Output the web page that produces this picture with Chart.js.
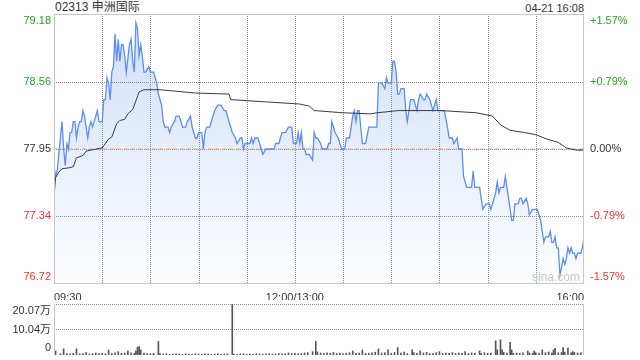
<!DOCTYPE html>
<html>
<head>
<meta charset="utf-8">
<script src="https://cdn.jsdelivr.net/npm/chart.js@4"></script>
<style>
  body { margin: 0; background: #fff; width: 640px; height: 360px; overflow: hidden; position: relative;
         font-family: "Liberation Sans", Arial, "Noto Sans CJK SC", sans-serif; }
  #priceBox { position: absolute; left: 0; top: 0; }
  #volBox { position: absolute; left: 0; top: 300px; }
  .lbl { position: absolute; color: #333; white-space: nowrap; }
  #title { left: 55px; top: 0; font-size: 12px; line-height: 15px; }
  #stamp { right: 56px; top: 1px; font-size: 11px; line-height: 14px; }
  #mark { left: 532px; top: 271px; font-size: 12px; line-height: 12px; color: #c8c8c8; }
</style>
</head>
<body>
<div class="lbl" id="title">02313 申洲国际</div>
<div class="lbl" id="stamp">04-21 16:08</div>
<canvas id="priceBox" width="640" height="300"></canvas>
<canvas id="volBox" width="640" height="60"></canvas>
<div class="lbl" id="mark">sina.com</div>
<script>
// minutes from 09:30 with the lunch break removed (330 trading minutes)
const prevClose = 77.95;
const priceTicks = [76.72, 77.34, 77.95, 78.56, 79.18];
const pctLabels = ['-1.57%', '-0.79%', '0.00%', '+0.79%', '+1.57%'];
const timeTicks = [0, 30, 60, 90, 120, 150, 180, 210, 240, 270, 300, 330];
const timeLabels = { 0: '09:30', 150: '12:00/13:00', 330: '16:00' };
const volTicks = [0, 10.04, 20.07];
const volLabels = ['0', '10.04万', '20.07万'];

const prices = [
  [0,77.80],[1,77.70],[2,77.75],[4,78.05],[5,78.20],[6,77.95],[7,77.80],[8,78.00],[9,77.95],[10,78.10],
  [11,78.10],[12,78.20],[13,78.20],[14,78.05],[15,78.15],[16,78.20],[17,78.20],[18,78.30],[19,78.25],[20,78.15],
  [21,78.05],[22,78.15],[23,78.20],[24,78.15],[26,78.25],[27,78.30],[28,78.20],[30,78.20],[31,78.40],[32,78.40],
  [33,78.60],[34,78.55],[35,78.40],[36,78.65],[37,78.70],[38,79.00],[39,78.75],[40,78.95],[41,78.75],[42,78.90],
  [43,78.90],[44,78.80],[45,78.65],[47,78.90],[48,78.95],[49,78.75],[50,78.65],[51,79.10],[52,79.05],[53,78.80],
  [54,78.90],[55,78.80],[56,78.65],[57,78.65],[59,78.70],[60,78.65],[62,78.65],[64,78.55],[65,78.45],[67,78.35],
  [68,78.20],[69,78.15],[71,78.15],[72,78.10],[73,78.15],[75,78.20],[76,78.25],[78,78.25],[80,78.15],[82,78.15],
  [83,78.20],[85,78.25],[86,78.15],[88,78.05],[89,78.05],[90,78.10],[92,78.10],[93,77.95],[94,78.10],[95,78.15],
  [97,78.15],[98,78.20],[100,78.30],[102,78.35],[104,78.35],[106,78.30],[107,78.30],[109,78.20],[110,78.15],[111,78.10],
  [113,78.05],[114,78.00],[116,78.05],[117,78.05],[118,77.95],[119,78.00],[122,78.00],[123,78.05],[124,78.00],[125,78.05],
  [127,78.05],[129,77.95],[130,77.90],[132,77.95],[134,77.95],[137,77.95],[138,78.00],[140,78.00],[141,78.05],[142,78.10],
  [144,78.10],[146,78.15],[148,78.15],[149,78.00],[151,78.00],[152,78.10],[153,78.00],[154,78.10],[155,77.95],[156,77.95],
  [157,77.90],[159,77.90],[161,77.85],[162,78.10],[163,78.05],[164,78.05],[166,78.00],[167,77.95],[170,77.95],[171,78.00],
  [172,78.00],[173,78.20],[174,78.15],[175,78.10],[177,78.05],[179,77.95],[181,77.95],[182,78.05],[184,78.05],[186,78.25],
  [187,78.30],[188,78.20],[189,78.30],[190,78.30],[191,78.15],[192,78.00],[194,78.00],[196,78.15],[198,78.15],[201,78.15],
  [202,78.55],[204,78.55],[206,78.50],[207,78.60],[208,78.55],[210,78.55],[211,78.75],[212,78.75],[213,78.65],[214,78.45],
  [215,78.45],[216,78.50],[218,78.50],[219,78.30],[220,78.20],[222,78.40],[224,78.40],[226,78.30],[227,78.40],[228,78.45],
  [230,78.40],[231,78.40],[232,78.45],[234,78.40],[235,78.35],[236,78.30],[237,78.35],[238,78.40],[239,78.30],[243,78.30],
  [245,78.15],[246,78.05],[248,78.05],[249,78.00],[251,78.05],[252,77.95],[254,77.95],[255,77.70],[257,77.60],[260,77.60],
  [261,77.75],[262,77.60],[264,77.60],[265,77.60],[266,77.50],[267,77.40],[269,77.45],[271,77.45],[272,77.40],[274,77.50],
  [275,77.55],[276,77.65],[277,77.55],[278,77.60],[280,77.60],[281,77.70],[282,77.60],[283,77.50],[284,77.40],[285,77.30],
  [286,77.30],[287,77.45],[289,77.45],[290,77.50],[291,77.50],[292,77.45],[294,77.50],[295,77.45],[296,77.35],[298,77.40],
  [301,77.40],[302,77.35],[303,77.30],[305,77.10],[306,77.15],[308,77.15],[309,77.20],[310,77.10],[311,77.10],[312,77.15],
  [313,77.05],[314,77.05],[315,76.80],[317,76.95],[318,76.90],[319,76.95],[320,77.05],[321,77.00],[322,77.05],[323,77.00],
  [324,77.00],[325,76.95],[326,77.00],[328,77.00],[329,77.05],[330,77.15]
];

const avgPrices = [
  [0,77.51],[1,77.69],[3,77.74],[5,77.77],[10,77.78],[12,77.79],[14,77.87],[18,77.89],[20,77.93],[23,77.94],
  [30,77.96],[34,78.04],[36,78.06],[39,78.18],[41,78.21],[44,78.22],[46,78.27],[49,78.31],[51,78.39],[53,78.47],
  [56,78.49],[62,78.49],[66,78.49],[88,78.46],[109,78.45],[110,78.40],[131,78.38],[153,78.36],[159,78.34],[162,78.30],
  [180,78.28],[197,78.27],[201,78.28],[208,78.29],[214,78.30],[241,78.30],[263,78.28],[273,78.25],[278,78.17],[284,78.12],
  [293,78.10],[300,78.08],[307,78.04],[314,78.01],[319,77.96],[325,77.94],[330,77.94]
];

// volume in 万 shares
const volumes = [
  [0,0.8],[1,1.6],[4,0.5],[6,2.4],[8,0.6],[10,0.4],[12,0.7],[14,2.4],[16,0.5],[18,0.6],
  [20,1.0],[22,0.4],[24,0.5],[26,0.8],[28,0.6],[30,0.7],[32,0.5],[34,2.0],[36,0.6],[38,0.9],
  [40,1.3],[42,0.7],[44,0.8],[46,1.6],[48,0.9],[50,0.7],[51,1.6],[52,3.1],[53,3.3],[54,2.0],
  [56,0.8],[58,0.6],[60,0.5],[62,0.7],[65,5.35],[66,0.6],[68,0.4],[70,0.5],[72,0.3],[74,0.4],
  [76,0.5],[78,0.4],[80,0.3],[82,0.5],[84,0.4],[86,0.3],[88,0.5],[90,0.4],[92,0.3],[94,0.5],
  [96,0.4],[98,0.3],[100,0.4],[102,0.5],[104,0.3],[106,0.4],[108,0.5],[111,20.07],[112,0.4],[114,0.3],
  [116,0.4],[118,0.5],[120,0.3],[122,0.4],[124,0.3],[126,0.5],[128,0.4],[130,0.3],[132,0.4],[134,0.5],
  [136,0.3],[138,0.4],[140,0.6],[142,0.4],[144,0.5],[146,0.8],[148,0.6],[150,0.7],[152,0.5],[154,0.6],
  [156,0.8],[158,0.9],[161,1.3],[163,5.35],[164,1.2],[166,0.8],[168,0.6],[170,0.9],[172,0.7],[174,1.0],
  [176,0.6],[178,0.8],[180,0.5],[182,0.7],[184,0.9],[186,1.6],[188,0.7],[190,0.8],[192,2.0],[194,0.6],
  [196,0.7],[198,0.9],[200,1.1],[202,2.4],[204,0.8],[206,0.9],[208,2.0],[210,0.7],[212,1.0],[214,2.9],
  [216,0.8],[218,1.1],[220,0.6],[223,2.0],[224,0.9],[226,0.7],[228,1.6],[230,0.8],[232,1.0],[234,0.6],
  [236,0.7],[238,0.9],[240,1.3],[242,0.6],[244,0.8],[246,0.7],[248,0.9],[250,0.6],[252,0.8],[254,0.7],
  [256,1.3],[258,0.6],[260,0.8],[262,0.7],[265,1.6],[266,0.6],[268,0.9],[270,0.7],[272,0.8],[275,5.6],
  [276,2.0],[278,6.0],[279,2.0],[280,1.0],[282,0.8],[284,5.0],[285,2.0],[286,0.7],[288,0.8],[290,0.6],
  [292,0.9],[295,1.6],[296,0.8],[298,0.7],[299,1.6],[300,0.9],[302,0.8],[304,2.0],[306,0.9],[308,1.2],
  [310,0.8],[311,2.0],[312,2.6],[314,0.9],[316,1.0],[317,2.9],[318,1.1],[320,2.7],[322,0.9],[323,1.3],
  [324,1.0],[326,0.8],[328,0.9],[330,14.7]
];

const green = '#22a822';
const red = '#ee3030';
const ink = '#333';
const gridGray = '#c8c8c8';
const dotGray = '#8a8a8a';

Chart.defaults.font.family = '"Liberation Sans", Arial, "Noto Sans CJK SC", sans-serif';
Chart.defaults.font.size = 11;
Chart.defaults.animation = false;

function tickColor(v) {
  if (v > prevClose + 1e-6) return green;
  if (v < prevClose - 1e-6) return red;
  return ink;
}

// shift the end labels inward: bottom label up, top label down
function edgeLabel(text, i, n) {
  if (i === 0) return [text, ''];
  if (i === n - 1) return ['', text];
  return text;
}

// keep the plot box where it is: no extra room for overflowing labels
function noPad(s) {
  s.paddingTop = 0; s.paddingBottom = 0; s.paddingLeft = 0; s.paddingRight = 0;
}

// dotted grid placed with the chart's own scales
function dotGrid(xs, ys) {
  return {
    id: 'dotGrid',
    beforeDatasetsDraw(chart) {
      const a = chart.chartArea, c = chart.ctx;
      c.save();
      c.strokeStyle = dotGray;
      c.lineWidth = 1;
      c.setLineDash([1, 1]);
      xs.forEach(v => {
        const px = Math.round(chart.scales.x.getPixelForValue(v)) + 0.5;
        c.beginPath(); c.moveTo(px, Math.round(a.top)); c.lineTo(px, Math.round(a.bottom)); c.stroke();
      });
      ys.forEach(v => {
        const py = Math.round(chart.scales.y.getPixelForValue(v)) + 0.5;
        c.beginPath(); c.moveTo(Math.round(a.left), py); c.lineTo(Math.round(a.right), py); c.stroke();
      });
      c.restore();
    }
  };
}

function frame(withTop, withBottom) {
  return {
    id: 'frame',
    afterDatasetsDraw(chart) {
      const a = chart.chartArea, c = chart.ctx;
      c.save();
      c.strokeStyle = gridGray;
      c.lineWidth = 1;
      c.beginPath();
      if (withTop) { c.moveTo(a.left, Math.round(a.top) + 0.5); c.lineTo(a.right, Math.round(a.top) + 0.5); }
      if (withBottom) { c.moveTo(a.left, Math.round(a.bottom) - 0.5); c.lineTo(a.right, Math.round(a.bottom) - 0.5); }
      c.moveTo(Math.round(a.left) + 0.5, a.top); c.lineTo(Math.round(a.left) + 0.5, a.bottom);
      c.moveTo(Math.round(a.right) - 0.5, a.top); c.lineTo(Math.round(a.right) - 0.5, a.bottom);
      c.stroke();
      c.restore();
    }
  };
}

new Chart(document.getElementById('priceBox').getContext('2d'), {
  type: 'line',
  data: {
    datasets: [
      {
        label: 'avg', data: avgPrices.map(p => ({ x: p[0], y: p[1] })),
        borderColor: '#3a3a3a', borderWidth: 1, pointRadius: 0, fill: false, order: 1
      },
      {
        label: 'price', data: prices.map(p => ({ x: p[0], y: p[1] })),
        borderColor: '#5b8ef0', borderWidth: 1.3, pointRadius: 0, fill: 'start', order: 2,
        backgroundColor: ctx => {
          const a = ctx.chart.chartArea;
          if (!a) return 'rgba(91,142,240,0.15)';
          const g = ctx.chart.ctx.createLinearGradient(0, a.top, 0, a.bottom);
          g.addColorStop(0, 'rgba(91,142,240,0.28)');
          g.addColorStop(1, 'rgba(91,142,240,0.02)');
          return g;
        }
      },
      {
        label: 'prev', data: [{ x: 0, y: prevClose }, { x: 330, y: prevClose }],
        borderColor: '#f0a070', borderWidth: 1, borderDash: [4, 3], pointRadius: 0, fill: false, order: 3
      }
    ]
  },
  options: {
    responsive: false,
    layout: { padding: { top: 14, left: 0, right: 0, bottom: 0 } },
    plugins: { legend: { display: false }, tooltip: { enabled: false }, filler: { drawTime: 'beforeDatasetsDraw' } },
    scales: {
      x: {
        type: 'linear', min: 0, max: 330,
        afterBuildTicks: s => { s.ticks = timeTicks.map(v => ({ value: v })); },
        afterFit: s => { s.height = 16; noPad(s); },
        ticks: { autoSkip: false, maxRotation: 0, align: 'inner', padding: 7, color: ink,
                 callback: v => timeLabels[v] || '' },
        grid: { display: false, drawTicks: false },
        border: { display: false }
      },
      y: {
        position: 'left', min: 76.72, max: 79.18,
        afterBuildTicks: s => { s.ticks = priceTicks.map(v => ({ value: v })); },
        afterFit: s => { s.width = 54; noPad(s); },
        ticks: { autoSkip: false, padding: 3, color: ctx => tickColor(ctx.tick.value),
                 callback: (v, i) => edgeLabel(v.toFixed(2), i, priceTicks.length) },
        grid: { display: false, drawTicks: false },
        border: { display: false }
      },
      y2: {
        position: 'right', min: 76.72, max: 79.18,
        afterBuildTicks: s => { s.ticks = priceTicks.map(v => ({ value: v })); },
        afterFit: s => { s.width = 56; noPad(s); },
        ticks: { autoSkip: false, padding: 6, color: ctx => tickColor(ctx.tick.value),
                 callback: (v, i) => edgeLabel(pctLabels[i], i, pctLabels.length) },
        grid: { display: false, drawTicks: false },
        border: { display: false }
      }
    }
  },
  plugins: [dotGrid(timeTicks.slice(1, -1), priceTicks.slice(1, -1)), frame(true, true)]
});

new Chart(document.getElementById('volBox').getContext('2d'), {
  type: 'bar',
  data: {
    datasets: [{
      label: 'vol', data: volumes.map(p => ({ x: p[0], y: p[1] })),
      backgroundColor: '#555', barThickness: 1, borderWidth: 0
    }]
  },
  options: {
    responsive: false,
    layout: { padding: { top: 4, left: 0, right: 56, bottom: 5 } },
    plugins: { legend: { display: false }, tooltip: { enabled: false } },
    scales: {
      x: { type: 'linear', min: 0, max: 330, offset: false, display: false },
      y: {
        position: 'left', min: 0, max: 20.07,
        afterBuildTicks: s => { s.ticks = volTicks.map(v => ({ value: v })); },
        afterFit: s => { s.width = 54; noPad(s); },
        ticks: { autoSkip: false, padding: 3, color: ink,
                 callback: (v, i) => edgeLabel(volLabels[i], i, volLabels.length) },
        grid: { display: false, drawTicks: false },
        border: { display: false }
      }
    }
  },
  plugins: [dotGrid([], volTicks.slice(1)), frame(false, false)]
});
</script>
</body>
</html>
